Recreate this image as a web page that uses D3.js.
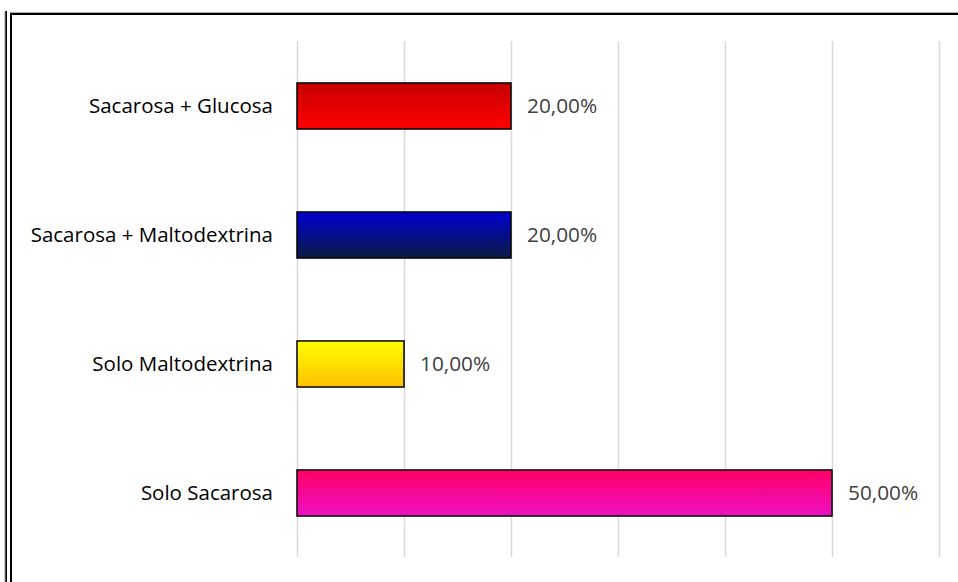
<!DOCTYPE html>
<html>
<head>
<meta charset="utf-8">
<script src="https://cdn.jsdelivr.net/npm/d3@7"></script>
<style>
  html, body { margin: 0; padding: 0; background: #fff; }
  svg { display: block; }
  .cat { font-family: "Open Sans", sans-serif; font-size: 20.5px; fill: #000; }
  .val { font-family: "Open Sans", sans-serif; font-size: 20.8px; fill: #404040; }
</style>
</head>
<body>
<svg id="chart" width="958" height="582"></svg>
<script>
// data
var categories = ["Sacarosa + Glucosa", "Sacarosa + Maltodextrina", "Solo Maltodextrina", "Solo Sacarosa"];
var values = [0.20, 0.20, 0.10, 0.50];
var valueLabels = ["20,00%", "20,00%", "10,00%", "50,00%"];
var gridTicks = [0, 0.1, 0.2, 0.3, 0.4, 0.5, 0.6];
// gradient top / bottom colour for each bar
var topColors = ["#c60000", "#0000d2", "#ffff00", "#ff0066"];
var bottomColors = ["#ff0000", "#0b1c44", "#ffc000", "#ec10c4"];

var svg = d3.select("#chart"),
    width = +svg.attr("width"),
    height = +svg.attr("height");

var margin = {top: 41, left: 297, bottom: 25};

var x = d3.scaleLinear()
  .domain([0, 0.6])
  .range([margin.left, 939]);

var y = d3.scaleBand()
  .domain(categories)
  .range([margin.top + 0.5, 557.5])
  .paddingInner(0.643)
  .paddingOuter(0.3215);

// frame (double line at left, line at top)
svg.append("line").attr("x1", 6).attr("x2", 6).attr("y1", 11).attr("y2", height)
  .attr("stroke", "#000").attr("stroke-width", 2);
svg.append("line").attr("x1", 5).attr("x2", 5).attr("y1", 11).attr("y2", height)
  .attr("stroke", "#999").attr("stroke-width", 1);
svg.append("line").attr("x1", 11).attr("x2", 11).attr("y1", 12).attr("y2", height)
  .attr("stroke", "#000").attr("stroke-width", 2);
svg.append("line").attr("x1", 10).attr("x2", width).attr("y1", 14).attr("y2", 14)
  .attr("stroke", "#000").attr("stroke-width", 2);
svg.append("line").attr("x1", 10).attr("x2", width).attr("y1", 12.5).attr("y2", 12.5)
  .attr("stroke", "#aaa").attr("stroke-width", 1);

// gradients
var defs = svg.append("defs");
categories.forEach(function(c, i) {
  var g = defs.append("linearGradient")
    .attr("id", "grad" + i)
    .attr("x1", 0).attr("y1", 0).attr("x2", 0).attr("y2", 1);
  g.append("stop").attr("offset", "0%").attr("stop-color", topColors[i]);
  g.append("stop").attr("offset", "100%").attr("stop-color", bottomColors[i]);
});

// vertical gridlines
svg.append("g")
  .selectAll("line")
  .data(gridTicks)
  .enter().append("line")
  .attr("x1", function(d) { return Math.round(x(d)) + 0.5; })
  .attr("x2", function(d) { return Math.round(x(d)) + 0.5; })
  .attr("y1", margin.top)
  .attr("y2", 557)
  .attr("stroke", "#d9d9d9")
  .attr("stroke-width", 1.5);

// bars
svg.append("g")
  .selectAll("rect")
  .data(values)
  .enter().append("rect")
  .attr("x", x(0))
  .attr("y", function(d, i) { return y(categories[i]); })
  .attr("width", function(d) { return x(d) - x(0); })
  .attr("height", y.bandwidth())
  .attr("fill", function(d, i) { return "url(#grad" + i + ")"; })
  .attr("stroke", "#000")
  .attr("stroke-width", 1.5);

// category labels
svg.append("g")
  .selectAll("text")
  .data(categories)
  .enter().append("text")
  .attr("class", "cat")
  .attr("x", 273)
  .attr("y", function(d) { return y(d) + y.bandwidth() / 2; })
  .attr("dy", "0.35em")
  .attr("text-anchor", "end")
  .text(function(d) { return d; });

// value labels
svg.append("g")
  .selectAll("text")
  .data(values)
  .enter().append("text")
  .attr("class", "val")
  .attr("x", function(d) { return x(d) + 16; })
  .attr("y", function(d, i) { return y(categories[i]) + y.bandwidth() / 2; })
  .attr("dy", "0.35em")
  .text(function(d, i) { return valueLabels[i]; });
</script>
</body>
</html>
